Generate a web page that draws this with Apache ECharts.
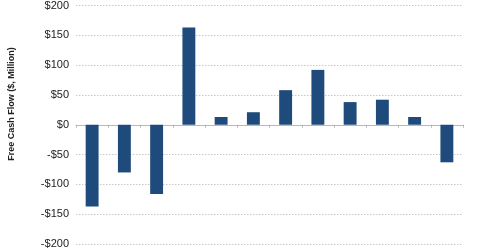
<!DOCTYPE html>
<html><head><meta charset="utf-8">
<script src="https://cdn.jsdelivr.net/npm/echarts@6/dist/echarts.min.js"></script>
<style>html,body{margin:0;padding:0;background:#fff}#c{width:480px;height:251px}</style>
</head><body><div id="c"></div>
<script>
var categories = ["P1","P2","P3","P4","P5","P6","P7","P8","P9","P10","P11","P12"];
var freeCashFlow = [-137, -80, -116, 163, 13, 21, 58, 92, 38, 42, 13, -63];
var yTicks = {min: -200, max: 200, interval: 50};
var yTitle = "Free Cash Flow ($, Million)";

var chart = echarts.init(document.getElementById('c'), null, {renderer: 'canvas'});
chart.setOption({
  animation: false,
  grid: {left: 76, right: 17, top: 2, bottom: 7, containLabel: false},
  graphic: [{
    type: 'text', x: 12, y: 104, rotation: Math.PI / 2,
    style: {text: yTitle, fontFamily: 'Liberation Sans, Arial', fontSize: 9, fontWeight: 'bold',
            fill: '#222', align: 'center', verticalAlign: 'middle'}
  }],
  xAxis: {
    type: 'category', data: categories,
    axisLine: {onZero: true, lineStyle: {color: '#b8b8b8', width: 1}},
    axisTick: {show: true, inside: false, length: 3, lineStyle: {color: '#b8b8b8'}},
    axisLabel: {show: false},
    splitLine: {show: false}
  },
  yAxis: {
    type: 'value', min: yTicks.min, max: yTicks.max, interval: yTicks.interval,
    axisLine: {show: false}, axisTick: {show: false},
    axisLabel: {
      fontFamily: 'Liberation Sans, Arial', fontSize: 11, color: '#222', margin: 7,
      formatter: function (v) { return (v < 0 ? '-$' : '$') + Math.abs(v); }
    },
    splitLine: {lineStyle: {color: '#c8c8c8', type: [1.5, 1.5], width: 1}}
  },
  series: [{
    type: 'bar', data: freeCashFlow, barWidth: '40%',
    itemStyle: {color: '#1f4a7c'}
  }]
});
</script></body></html>
